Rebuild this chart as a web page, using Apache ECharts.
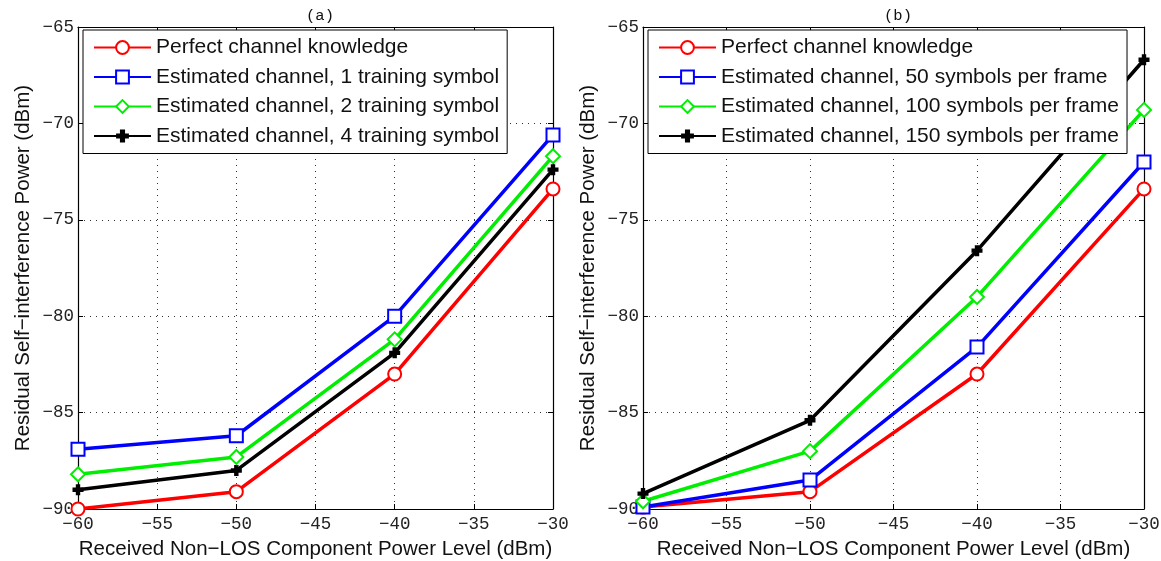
<!DOCTYPE html>
<html>
<head>
<meta charset="utf-8">
<script src="https://cdn.jsdelivr.net/npm/echarts@6/dist/echarts.min.js"></script>
<style>
	html, body { margin: 0; padding: 0; background: #fff; }
	#charts { width: 1161px; height: 561px; }
</style>
</head>
<body>
<div id="charts"></div>
<script>
// x positions (dBm)
var xLevels = [-60, -50, -40, -30];

// (a) training symbols
var aPerfect = [-90.0, -89.1, -83.0, -73.4];
var aTrain1 = [-86.9, -86.2, -80.0, -70.6];
var aTrain2 = [-88.2, -87.3, -81.2, -71.7];
var aTrain4 = [-89.0, -88.0, -81.9, -72.4];

// (b) symbols per frame
var bPerfect = [-89.9, -89.1, -83.0, -73.4];
var b50 = [-89.9, -88.5, -81.6, -72.0];
var b100 = [-89.6, -87.0, -79.0, -69.3];
var b150 = [-89.2, -85.4, -76.6, -66.7];

var namesA = ['Perfect channel knowledge', 'Estimated channel, 1 training symbol',
    'Estimated channel, 2 training symbol', 'Estimated channel, 4 training symbol'];
var namesB = ['Perfect channel knowledge', 'Estimated channel, 50 symbols per frame',
    'Estimated channel, 100 symbols per frame', 'Estimated channel, 150 symbols per frame'];

var colors = ['#ff0000', '#0000ff', '#00ee00', '#000000'];
var symbols = ['emptyCircle', 'emptyRect', 'emptyDiamond',
    'path://M3,0 L7,0 L7,3 L10,3 L10,7 L7,7 L7,10 L3,10 L3,7 L0,7 L0,3 L3,3 Z'];
var symSizes = [13, 13, 14, 11];

var mono = '"Liberation Mono", "DejaVu Sans Mono", monospace';
var sans = '"Liberation Sans", Arial, sans-serif';

function pairs(vals) {
    return vals.map(function (v, i) { return [xLevels[i], v]; });
}
function minus(v) { return String(v).replace('-', '\u2212'); }

function xAxisFor(idx) {
    return {
        type: 'value', gridIndex: idx, min: -60, max: -30, interval: 5,
        name: 'Received Non\u2212LOS Component Power Level (dBm)',
        nameLocation: 'middle', nameGap: 30,
        nameTextStyle: { fontFamily: sans, fontSize: 20.5, color: '#111' },
        axisLine: { lineStyle: { color: '#000', width: 1.2 } },
        axisTick: { inside: true, length: 5, lineStyle: { color: '#000' } },
        axisLabel: { formatter: minus, fontFamily: mono, fontSize: 17.5, color: '#222', margin: 6 },
        splitLine: { show: true, lineStyle: { type: [1, 5], color: '#333' } }
    };
}
function yAxisFor(idx) {
    return {
        type: 'value', gridIndex: idx, min: -90, max: -65, interval: 5,
        name: 'Residual Self\u2212interference Power (dBm)',
        nameLocation: 'middle', nameGap: 44,
        nameTextStyle: { fontFamily: sans, fontSize: 20.5, color: '#111' },
        axisLine: { lineStyle: { color: '#000', width: 1.2 } },
        axisTick: { inside: true, length: 5, lineStyle: { color: '#000' } },
        axisLabel: { formatter: minus, fontFamily: mono, fontSize: 17.5, color: '#222', margin: 4 },
        splitLine: { show: true, lineStyle: { type: [1, 5], color: '#333' } }
    };
}
// mirror axes (top / right) for the box ticks
function xTop(idx) {
    return { type: 'value', gridIndex: idx, position: 'top', min: -60, max: -30, interval: 5,
        axisLine: { lineStyle: { color: '#000', width: 1.2 } },
        axisTick: { inside: true, length: 5, lineStyle: { color: '#000' } },
        axisLabel: { show: false }, splitLine: { show: false } };
}
function yRight(idx) {
    return { type: 'value', gridIndex: idx, position: 'right', min: -90, max: -65, interval: 5,
        axisLine: { lineStyle: { color: '#000', width: 1.2 } },
        axisTick: { inside: true, length: 5, lineStyle: { color: '#000' } },
        axisLabel: { show: false }, splitLine: { show: false } };
}

function makeSeries(names, data, gi) {
    return names.map(function (n, i) {
        return {
            name: n, type: 'line', xAxisIndex: gi * 2, yAxisIndex: gi * 2,
            data: pairs(data[i]),
            symbol: symbols[i], symbolSize: symSizes[i],
            itemStyle: { color: colors[i], borderWidth: 2.5 },
            lineStyle: { color: colors[i], width: 3.5 },
            animation: false
        };
    });
}

function legendFor(names, left) {
    return {
        orient: 'vertical', left: left, top: 30,
        data: names,
        backgroundColor: '#fff', borderColor: '#000', borderWidth: 1,
        padding: [7, 8, 7, 10],
        itemWidth: 57, itemHeight: 16, itemGap: 8.5,
        textStyle: { fontFamily: sans, fontSize: 21, lineHeight: 20, color: '#111' }
    };
}

var chart = echarts.init(document.getElementById('charts'));
chart.setOption({
    backgroundColor: '#fff',
    color: colors,
    title: [
        { text: '(a)', left: 315, top: 3, textAlign: 'center',
          textStyle: { fontFamily: mono, fontSize: 15.5, fontWeight: 'normal', color: '#111' } },
        { text: '(b)', left: 893, top: 3, textAlign: 'center',
          textStyle: { fontFamily: mono, fontSize: 15.5, fontWeight: 'normal', color: '#111' } }
    ],
    grid: [
        { left: 78, right: 608, top: 27, bottom: 52, outerBoundsMode: 'none' },
        { left: 643, right: 17, top: 27, bottom: 52, outerBoundsMode: 'none' }
    ],
    xAxis: [xAxisFor(0), xTop(0), xAxisFor(1), xTop(1)],
    yAxis: [yAxisFor(0), yRight(0), yAxisFor(1), yRight(1)],
    legend: [legendFor(namesA, 83), legendFor(namesB, 648)],
    series: makeSeries(namesA, [aPerfect, aTrain1, aTrain2, aTrain4], 0)
        .concat(makeSeries(namesB, [bPerfect, b50, b100, b150], 1))
});
</script>
</body>
</html>
